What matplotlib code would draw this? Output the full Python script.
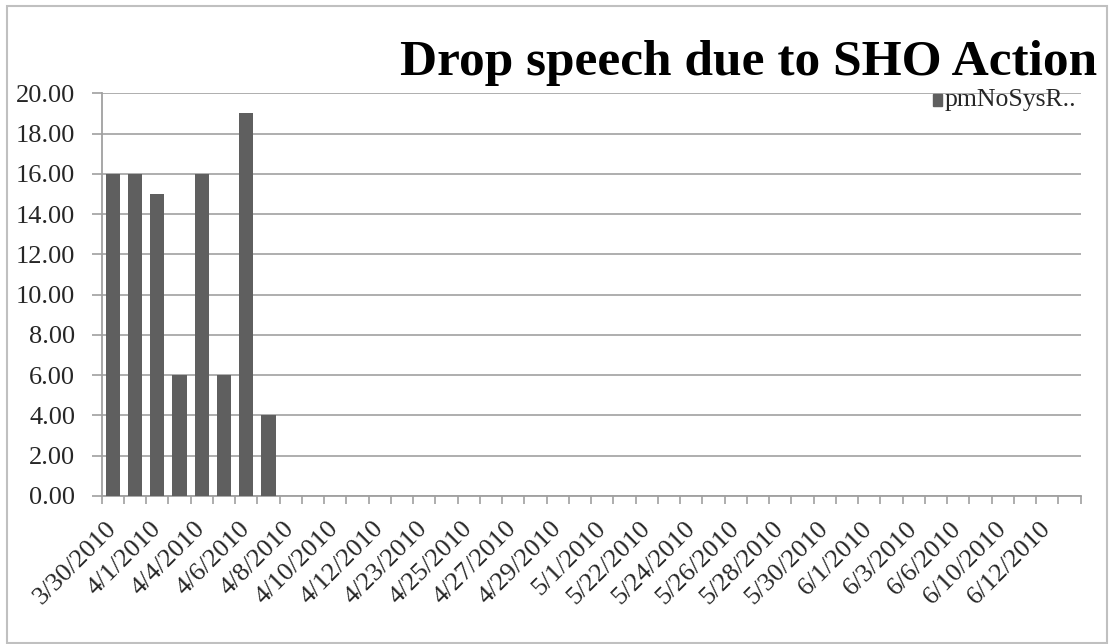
import matplotlib
matplotlib.use('Agg')
import matplotlib.pyplot as plt
from matplotlib.patches import Rectangle
from matplotlib.ticker import FixedLocator

# per-day counters, only every second date is printed on the axis
dates = ['3/30/2010', '3/31/2010', '4/1/2010', '4/2/2010', '4/4/2010', '4/5/2010',
         '4/6/2010', '4/7/2010', '4/8/2010', '4/9/2010', '4/10/2010', '4/11/2010',
         '4/12/2010', '4/22/2010', '4/23/2010', '4/24/2010', '4/25/2010', '4/26/2010',
         '4/27/2010', '4/28/2010', '4/29/2010', '4/30/2010', '5/1/2010', '5/21/2010',
         '5/22/2010', '5/23/2010', '5/24/2010', '5/25/2010', '5/26/2010', '5/27/2010',
         '5/28/2010', '5/29/2010', '5/30/2010', '5/31/2010', '6/1/2010', '6/2/2010',
         '6/3/2010', '6/5/2010', '6/6/2010', '6/9/2010', '6/10/2010', '6/11/2010',
         '6/12/2010', '6/13/2010']
drops = [16, 16, 15, 6, 16, 6, 19, 4, 0, 0, 0, 0,
         0, 0, 0, 0, 0, 0, 0, 0, 0, 0, 0, 0,
         0, 0, 0, 0, 0, 0, 0, 0, 0, 0, 0, 0,
         0, 0, 0, 0, 0, 0, 0, 0]
yticks = [0, 2, 4, 6, 8, 10, 12, 14, 16, 18, 20]
series_name = 'pmNoSysR..'
title = 'Drop speech due to SHO Action'

W, H = 1111, 644
plt.rcParams['font.family'] = ['Liberation Serif', 'DejaVu Serif']

fig = plt.figure(figsize=(W / 100, H / 100), dpi=100)
ax = fig.add_axes([101.7 / W, 1 - 496 / H, (1080.7 - 101.7) / W, (496 - 93.3) / H])

x = list(range(len(dates)))
ax.bar(x, drops, width=0.64, color='#5f5f5f', zorder=3)

ax.set_xlim(-0.5, len(dates) - 0.5)
ax.set_ylim(0, 20)
ax.set_yticks(yticks)
ax.set_yticklabels(['%.2f' % v for v in yticks])
ax.yaxis.grid(True, color='#a8a8a8', linewidth=1.3, zorder=0)

# category labels on every other date, tick marks on the boundaries
ax.set_xticks(x[::2])
ax.set_xticklabels(dates[::2], rotation=45, ha='right', va='center',
                   rotation_mode='anchor')
ax.xaxis.set_minor_locator(FixedLocator([i - 0.5 for i in range(len(dates) + 1)]))
ax.tick_params(axis='x', which='major', length=0, pad=21, labelsize=19,
               labelcolor='#262626')
ax.tick_params(axis='x', which='minor', length=6, width=1.2, color='#a0a0a0',
               direction='out')
ax.tick_params(axis='y', length=7, width=1.2, color='#a0a0a0', pad=12,
               labelsize=19, labelcolor='#262626')

for side in ['top', 'right']:
    ax.spines[side].set_visible(False)
for side in ['left', 'bottom']:
    ax.spines[side].set_color('#a0a0a0')
    ax.spines[side].set_linewidth(1.3)

fig.text(1097 / W, 1 - 75 / H, title, ha='right', va='baseline',
         fontsize=37, fontweight='bold', color='black')

# legend: small square plus series name, top right corner
fig.add_artist(Rectangle((933 / W, 1 - 106 / H), 9 / W, 12 / H,
                         transform=fig.transFigure, color='#5f5f5f'))
fig.text(945 / W, 1 - 106 / H, series_name, ha='left', va='baseline',
         fontsize=18.5, color='#262626')

# chart frame
fig.add_artist(Rectangle((7 / W, 1 - 643 / H), 1100 / W, 637 / H,
                         transform=fig.transFigure, fill=False,
                         edgecolor='#c0c0c0', linewidth=1.5))

fig.savefig('out.png', dpi=100, facecolor='white')
